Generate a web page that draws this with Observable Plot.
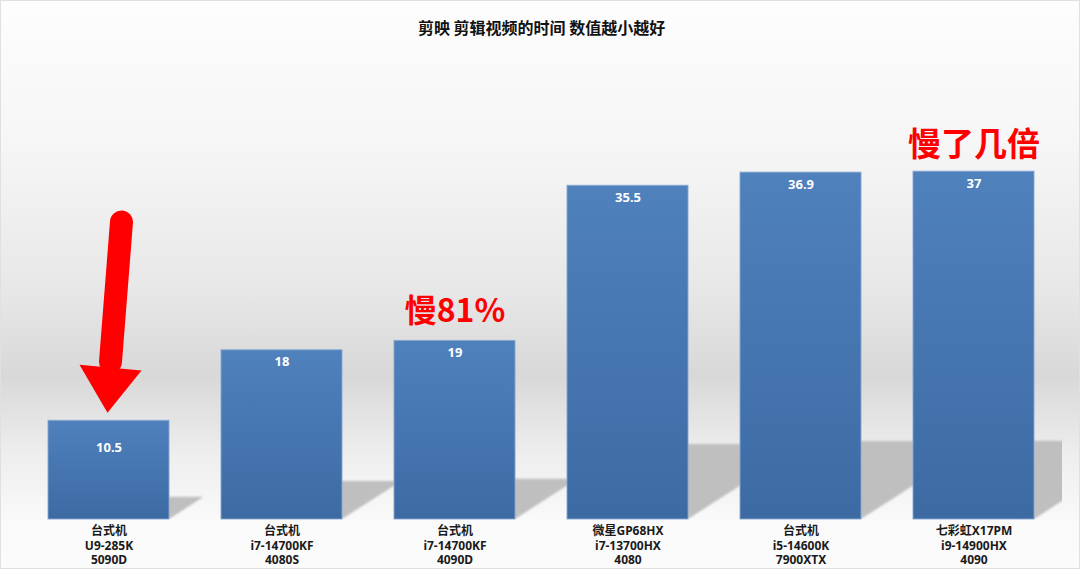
<!DOCTYPE html>
<html><head><meta charset="utf-8">
<script src="https://cdn.jsdelivr.net/npm/d3@7"></script>
<script src="https://cdn.jsdelivr.net/npm/@observablehq/plot@0.6"></script>
<style>
html,body{margin:0;padding:0;background:#fff;}
#chart{width:1080px;height:569px;}
</style></head><body><div id="chart"></div>
<script>
// ---- data ----
const line1 = ["台式机", "台式机", "台式机", "微星GP68HX", "台式机", "七彩虹X17PM"];
const line2 = ["U9-285K", "i7-14700KF", "i7-14700KF", "i7-13700HX", "i5-14600K", "i9-14900HX"];
const line3 = ["5090D", "4080S", "4090D", "4080", "7900XTX", "4090"];
const values = [10.5, 18, 19, 35.5, 36.9, 37];
const valueLabels = ["10.5", "18", "19", "35.5", "36.9", "37"];
const titleText = "剪映 剪辑视频的时间 数值越小越好";
const noteIndex = [2, 5];
const noteText = ["慢81%", "慢了几倍"];
// arrow annotation (data units on y, pointing at the first bar)
const arrowY = {top: 31.6, headBase: 16.1, tip: 11.3};

// ---- derived table ----
const cats = line1.map((d, i) => `${d}\n${line2[i]}\n${line3[i]}`);
const data = cats.map((c, i) => ({cat: c, value: values[i], label: valueLabels[i]}));
const notes = noteIndex.map((i, k) => ({cat: cats[i], value: values[i], text: noteText[k]}));

const FONT = "'Noto Sans', 'Noto Sans CJK SC', sans-serif";

const chart = Plot.plot({
  width: 1080,
  height: 569,
  marginTop: 143,
  marginBottom: 50,
  marginLeft: 20,
  marginRight: 18,
  style: {
    background: "linear-gradient(to bottom, #fdfdfd 0%, #f6f6f6 25%, #e8e8e8 50%, #d8d8d8 66%, #eeeeee 80%, #fafafa 92%, #fbfbfb 100%)",
    fontFamily: FONT,
    overflow: "visible",
    outline: "1px solid #e0e0e0",
    outlineOffset: "-1px"
  },
  x: {domain: cats, paddingInner: 0.3, paddingOuter: 0.15, axis: null},
  y: {domain: [0, 40], axis: null},
  marks: [
    Plot.barY(data, {x: "cat", y: "value", fill: "url(#barGrad)", stroke: "#86a6d0", strokeWidth: 1, strokeOpacity: 0.9}),
    Plot.text(data.slice(1), {x: "cat", y: "value", text: "label", dy: 12, fill: "white", fontWeight: "bold", fontSize: 13}),
    Plot.text(data.slice(0, 1), {x: "cat", y: "value", text: "label", dy: 27, fill: "white", fontWeight: "bold", fontSize: 13}),
    Plot.text(data, {x: "cat", text: "cat", frameAnchor: "bottom", lineAnchor: "top", dy: 5, lineHeight: 1.22, fontSize: 12, fontWeight: "bold", fill: "#1a1a1a"}),
    Plot.text(notes.slice(0, 1), {x: "cat", y: "value", text: "text", dy: -29, fill: "#ff0000", fontWeight: "bold", fontSize: 32, fontFamily: "'Noto Sans CJK SC', sans-serif"}),
    Plot.text(notes.slice(1), {x: "cat", y: "value", text: "text", dy: -26, fill: "#ff0000", fontWeight: "bold", fontSize: 33, fontFamily: "'Noto Sans CJK SC', sans-serif"}),
    Plot.text([titleText], {frameAnchor: "top", dy: -121, fontSize: 16, fontWeight: "bold", fill: "#111", fontFamily: "'Noto Sans CJK SC', sans-serif"})
  ]
});

document.getElementById("chart").appendChild(chart);

// ---- defs, shadows and arrow using the plot's own scales ----
const svg = d3.select(chart);
const xs = chart.scale("x");
const ys = chart.scale("y");
const bw = xs.bandwidth;
const xRight = xs.range[1];
const base = ys.apply(0);

const defs = svg.insert("defs", ":first-child");
const g = defs.append("linearGradient").attr("id", "barGrad").attr("x1", 0).attr("y1", 0).attr("x2", 0).attr("y2", 1);
g.append("stop").attr("offset", "0%").attr("stop-color", "#4f81bd");
g.append("stop").attr("offset", "100%").attr("stop-color", "#3d6aa3");
const f = defs.append("filter").attr("id", "shadowBlur").attr("x", "-10%").attr("y", "-10%").attr("width", "120%").attr("height", "120%");
f.append("feGaussianBlur").attr("stdDeviation", 0.8);
defs.append("clipPath").attr("id", "shadowClip").append("rect")
  .attr("x", 0).attr("y", 0).attr("width", xRight).attr("height", base);

const barG = chart.querySelector('g[aria-label="bar"]');
const shadowG = document.createElementNS("http://www.w3.org/2000/svg", "g");
chart.insertBefore(shadowG, barG);
const sg = d3.select(shadowG).attr("clip-path", "url(#shadowClip)").attr("filter", "url(#shadowBlur)");
data.forEach(d => {
  const x0 = xs.apply(d.cat), x1 = x0 + bw;
  const h = base - ys.apply(d.value);
  const sx = 0.35 * h, sy = 0.225 * h;
  sg.append("polygon")
    .attr("points", [[x0, base], [x1, base], [x1 + sx, base - sy], [x0 + sx, base - sy]].map(p => p.join(",")).join(" "))
    .attr("fill", "#bfbfbf");
});

// arrow on first bar
const cx = xs.apply(cats[0]) + bw / 2;
const ag = svg.append("g");
ag.append("line")
  .attr("x1", cx + 13).attr("y1", ys.apply(arrowY.top))
  .attr("x2", cx + 2).attr("y2", ys.apply(arrowY.headBase) - 6)
  .attr("stroke", "#ff0000").attr("stroke-width", 23).attr("stroke-linecap", "round");
ag.append("polygon")
  .attr("points", [
    [cx - 29, ys.apply(arrowY.headBase + 0.3)],
    [cx + 33, ys.apply(arrowY.headBase - 0.3)],
    [cx - 1, ys.apply(arrowY.tip)]
  ].map(p => p.join(",")).join(" "))
  .attr("fill", "#ff0000");
</script></body></html>
